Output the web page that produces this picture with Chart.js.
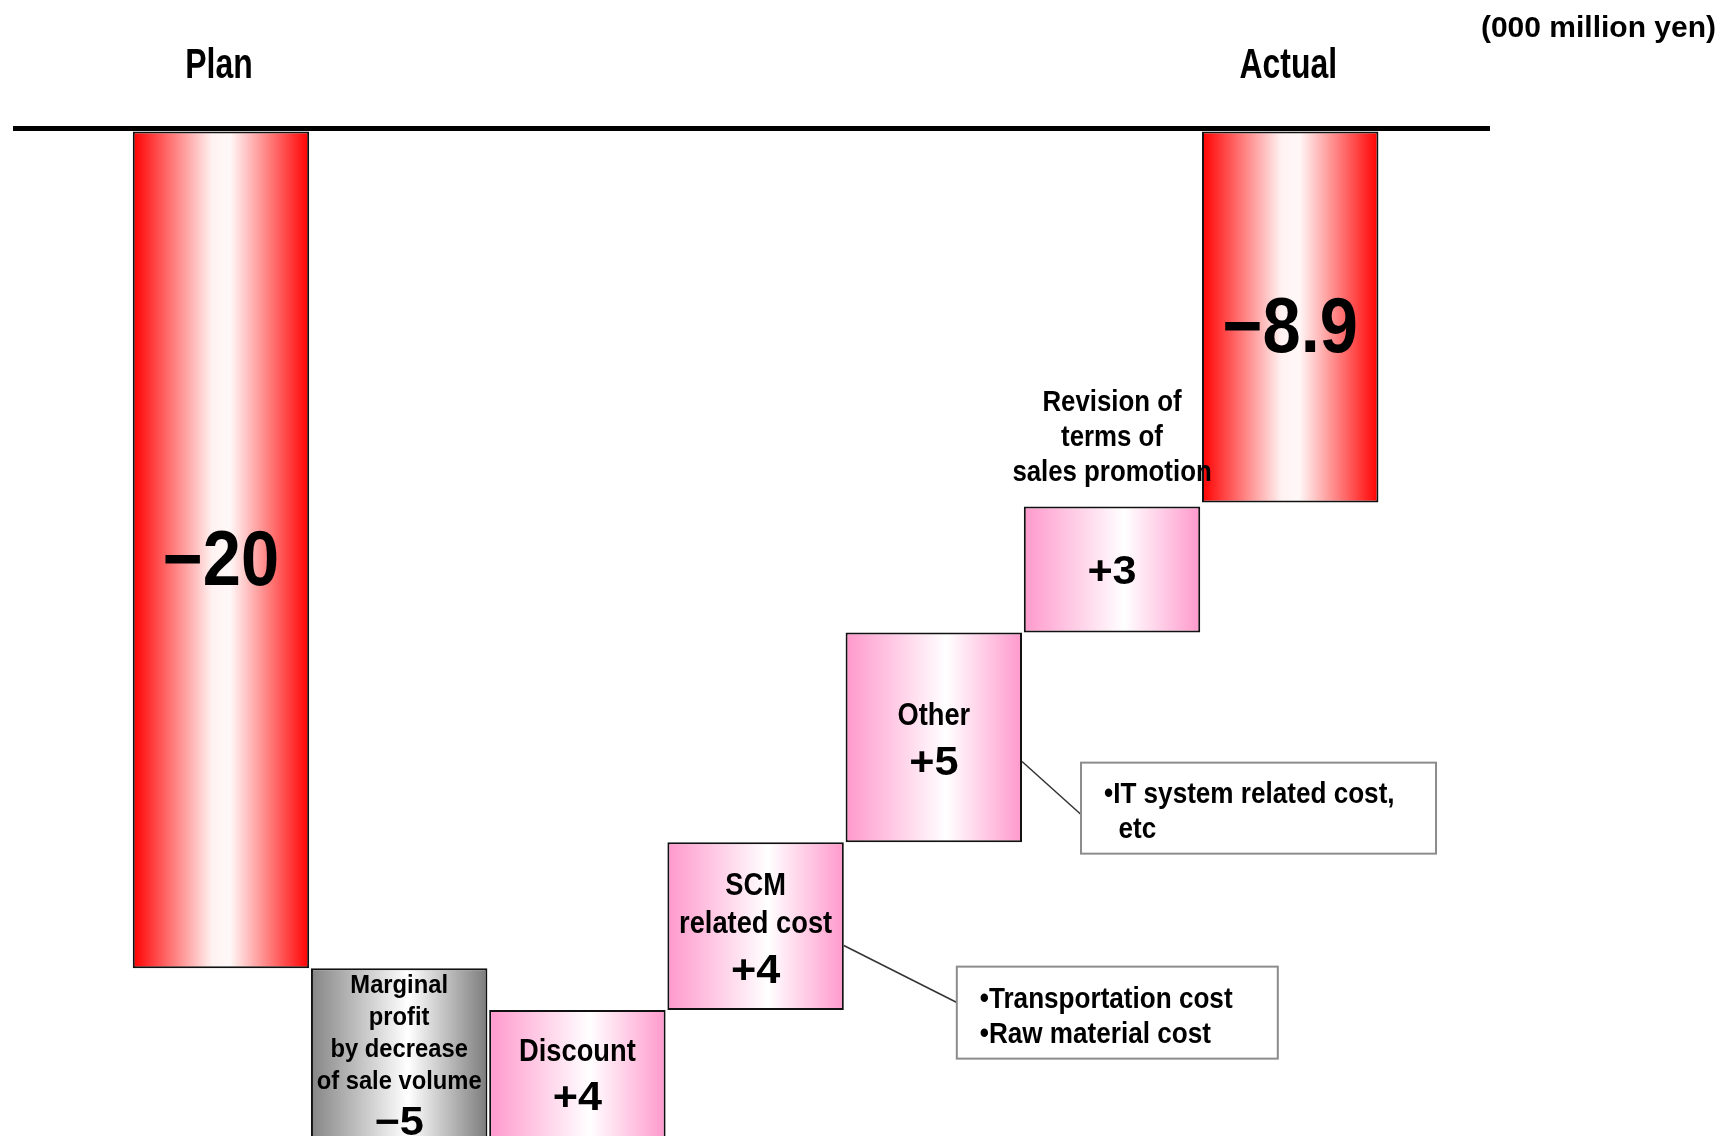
<!DOCTYPE html>
<html>
<head>
<meta charset="utf-8">
<script src="https://cdn.jsdelivr.net/npm/chart.js@4/dist/chart.umd.min.js"></script>
<style>
  html, body { margin: 0; padding: 0; background: #fff; overflow: hidden; }
  #wrap { position: relative; width: 1733px; height: 1136px; }
</style>
</head>
<body>
<div id="wrap"><canvas id="bridge"></canvas></div>
<script>
// Operating profit bridge from plan to actual, in 000 million yen
const steps = ['Plan', 'Marginal profit by decrease of sale volume', 'Discount', 'SCM related cost', 'Other', 'Revision of terms of sales promotion', 'Actual'];
const changes = [-20, -5, 4, 4, 5, 3, -8.9];
const isTotal = [true, false, false, false, false, false, true];
const headers = ['Plan', '', '', '', '', '', 'Actual'];
const insideText = [[], ['Marginal', 'profit', 'by decrease', 'of sale volume'], ['Discount'], ['SCM', 'related cost'], ['Other'], [], []];
const aboveText = [[], [], [], [], [], ['Revision of', 'terms of', 'sales promotion'], []];
const breakdownStep = [3, 4];
const breakdownLines = [['•Transportation cost', '•Raw material cost'], ['•IT system related cost,', '  etc']];
const unitLabel = '(000 million yen)';

// floating ranges: totals start from zero, changes start from the running total
const ranges = [];
let running = 0;
changes.forEach((v, i) => {
  if (isTotal[i]) { ranges.push([0, v]); running = v; }
  else { ranges.push([running, running + v]); running += v; }
});
const fmt = v => (v > 0 ? '+' : '\u2212') + Math.abs(v);

const FONT = '"Liberation Sans", Arial, sans-serif';
const BAR_FRACTION = 0.99;

function fillFor(c) {
  const chart = c.chart;
  const i = c.dataIndex;
  if (i === undefined || !chart.chartArea) return '#ffaaaa';
  const xs = chart.scales.x;
  const cx = xs.getPixelForValue(i);
  const half = (xs.getPixelForValue(1) - xs.getPixelForValue(0)) * BAR_FRACTION / 2;
  const g = chart.ctx.createLinearGradient(cx - half, 0, cx + half, 0);
  if (isTotal[i]) {
    g.addColorStop(0, '#ff0000'); g.addColorStop(0.45, '#fff2f2');
    g.addColorStop(0.55, '#fff8f8'); g.addColorStop(1, '#ff0000');
  } else if (changes[i] < 0) {
    g.addColorStop(0, '#858585'); g.addColorStop(0.55, '#ffffff'); g.addColorStop(1, '#7c7c7c');
  } else {
    g.addColorStop(0, '#ff99cc'); g.addColorStop(0.57, '#ffffff'); g.addColorStop(1, '#ff99cc');
  }
  return g;
}

// text with a horizontal squeeze; y is the middle of the capital height
function label(ctx, s, x, y, size, sx, align) {
  ctx.save();
  ctx.font = 'bold ' + size + 'px ' + FONT;
  ctx.textBaseline = 'alphabetic';
  ctx.textAlign = align || 'center';
  ctx.translate(x, y + size * 0.358);
  ctx.scale(sx, 1);
  ctx.fillText(s, 0, 0);
  ctx.restore();
}

const annotate = {
  id: 'annotate',
  afterDatasetsDraw(chart) {
    const { ctx, chartArea: area, scales: { y: ys } } = chart;
    const meta = chart.getDatasetMeta(0);
    const zeroY = ys.getPixelForValue(0);
    ctx.save();
    ctx.fillStyle = '#000';

    // unit caption
    label(ctx, unitLabel, 1716, 26, 30, 1.0, 'right');

    meta.data.forEach((bar, i) => {
      const p = bar.getProps(['x', 'y', 'base', 'width'], true);
      const top = Math.min(p.y, p.base), bottom = Math.max(p.y, p.base);
      const visTop = Math.max(top, area.top), visBot = Math.min(bottom, area.bottom);
      const mid = (visTop + visBot) / 2;

      if (headers[i]) label(ctx, headers[i], p.x - 2, zeroY - 66, 42, 0.76);

      if (isTotal[i]) {
        label(ctx, fmt(changes[i]), p.x, mid + 7, 78, 0.88);
      } else {
        const words = insideText[i];
        const n = words.length;
        const small = n > 2;
        const size = small ? 25 : 31, sx = small ? 0.95 : 0.88;
        const pitch = small ? 32 : 38, gap = small ? 41 : 46;
        const span = n ? (n - 1) * pitch + gap : 0;
        const start = mid - span / 2;
        words.forEach((w, k) => label(ctx, w, p.x, start + k * pitch, size, sx));
        label(ctx, fmt(changes[i]), p.x, start + span, 40, 1.08);
      }

      const above = aboveText[i];
      if (above.length) {
        above.forEach((w, k) => {
          const yc = top - 36 - (above.length - 1 - k) * 35;
          label(ctx, w, p.x, yc, 30, 0.86);
        });
      }
    });

    // breakdown call-outs with leader lines
    const boxW = [321, 355], boxH = [92, 91], dx = [113, 59], dy = [57, 53], anchor = [0.39, 0.57];
    breakdownStep.forEach((s, k) => {
      const p = meta.data[s].getProps(['x', 'y', 'base', 'width'], true);
      const top = Math.min(p.y, p.base), bottom = Math.max(p.y, p.base);
      const sxp = p.x + p.width / 2, syp = top + 0.615 * (bottom - top);
      const ex = sxp + dx[k], ey = syp + dy[k];
      const bTop = ey - anchor[k] * boxH[k];
      ctx.strokeStyle = '#333'; ctx.lineWidth = 1.5;
      ctx.beginPath(); ctx.moveTo(sxp, syp); ctx.lineTo(ex, ey); ctx.stroke();
      ctx.fillStyle = '#fff'; ctx.fillRect(ex, bTop, boxW[k], boxH[k]);
      ctx.strokeStyle = '#8c8c8c'; ctx.lineWidth = 2;
      ctx.strokeRect(ex, bTop, boxW[k], boxH[k]);
      ctx.fillStyle = '#000';
      const lines = breakdownLines[k];
      const c0 = bTop + boxH[k] / 2 - (lines.length - 1) * 35 / 2 + 2;
      lines.forEach((t, j) => label(ctx, t, ex + 23, c0 + j * 35, 29, 0.9, 'left'));
    });
    ctx.restore();
  }
};

new Chart(document.getElementById('bridge'), {
  type: 'bar',
  data: {
    labels: steps,
    datasets: [{
      data: ranges.map((r, i) => ({ x: i, y: r })),
      backgroundColor: fillFor,
      borderColor: '#111',
      borderWidth: 2,
      borderSkipped: false,
      categoryPercentage: 1,
      barPercentage: BAR_FRACTION
    }]
  },
  options: {
    responsive: true,
    maintainAspectRatio: false,
    devicePixelRatio: 1,
    animation: false,
    layout: { padding: { left: 13, right: 243, top: 108, bottom: 0 } },
    plugins: { legend: { display: false }, tooltip: { enabled: false } },
    scales: {
      x: {
        type: 'linear', display: false, offset: false,
        min: -1.167, max: 7.121
      },
      y: {
        min: -24, max: 0.5,
        afterBuildTicks: s => { s.ticks = [{ value: 0 }]; },
        ticks: { display: false },
        border: { display: false },
        grid: {
          drawTicks: false, tickLength: 0,
          color: c => (c.tick && c.tick.value === 0 ? '#000' : 'rgba(0,0,0,0)'),
          lineWidth: 5
        }
      }
    }
  },
  plugins: [annotate]
});
</script>
</body>
</html>
